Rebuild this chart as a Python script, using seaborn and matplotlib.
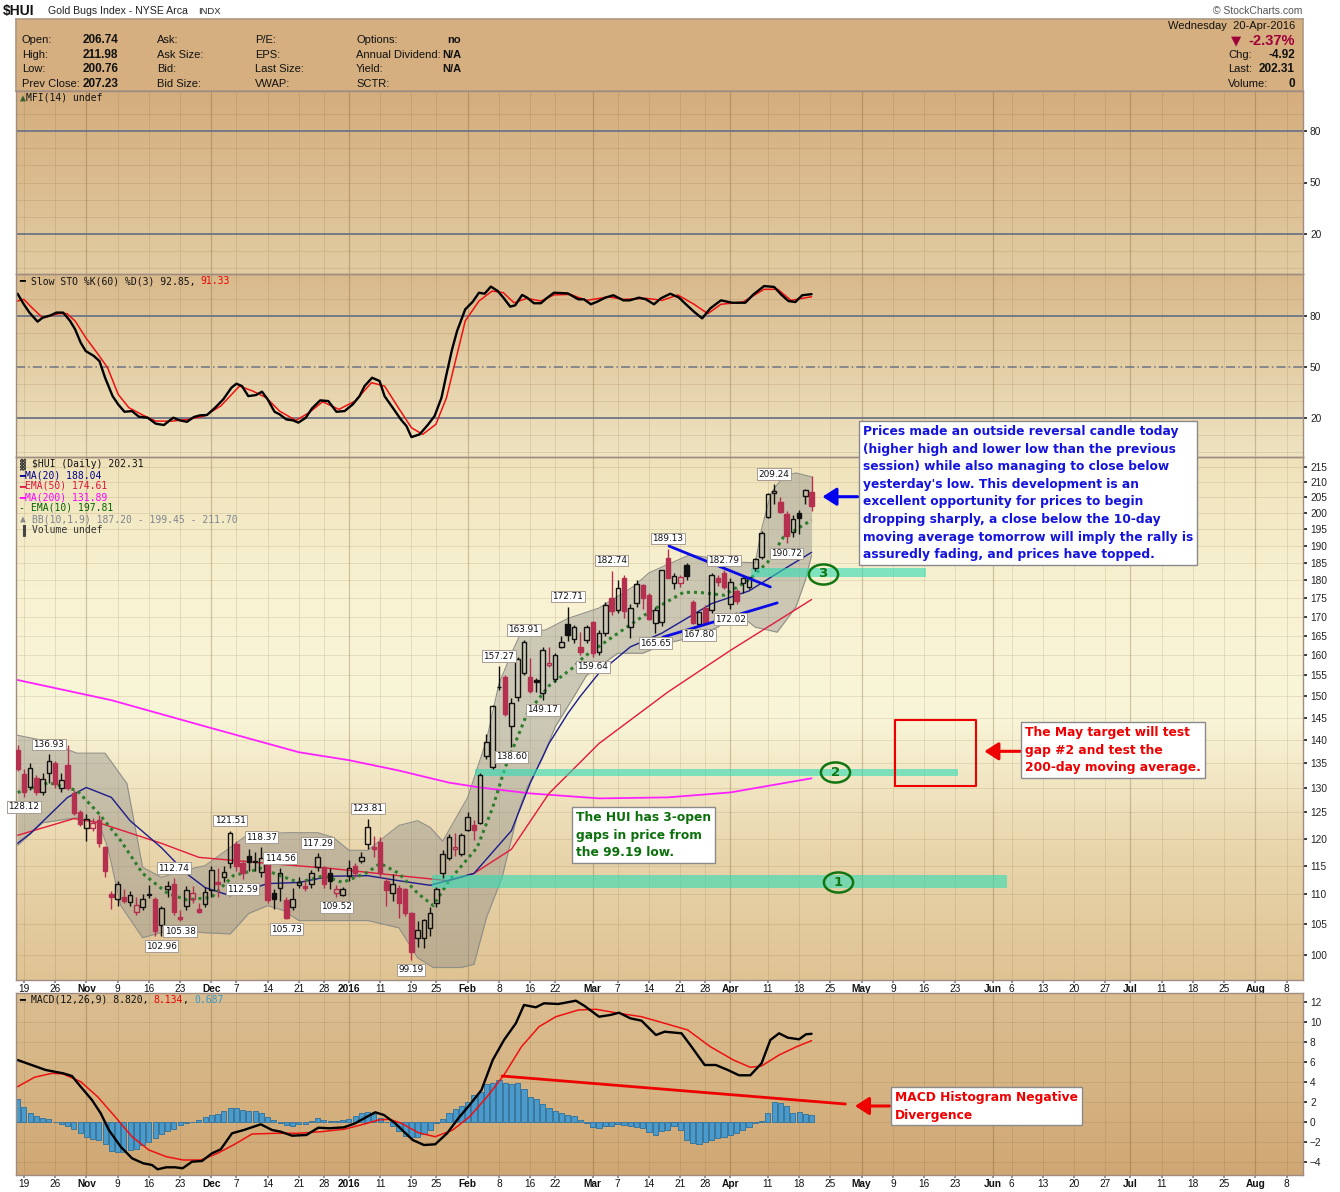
import numpy as np
import pandas as pd
import matplotlib
matplotlib.use("Agg")
import matplotlib.pyplot as plt
import seaborn as sns
from matplotlib.colors import LinearSegmentedColormap
from matplotlib.path import Path
from matplotlib.transforms import Affine2D
from matplotlib.ticker import FuncFormatter, NullLocator

# ---------------- data (trading-day index d: -1 = 16-Oct-2015 ... 126 = 20-Apr-2016) ----------------
OPEN = [137.8, 132.8, 130.2, 132.0, 129.1, 133.0, 135.2, 130.0, 134.6, 128.8, 125.0, 122.0, 122.0, 123.6, 118.5,
        110.0, 109.2, 109.4, 108.6, 106.9, 107.7, 109.8, 109.2, 104.7, 110.8, 111.8, 106.1, 108.0, 109.1, 107.4,
        108.2, 110.6, 112.0, 112.9, 115.4, 118.9, 115.4, 116.8, 115.9, 113.8, 115.4, 110.1, 111.1, 109.0, 107.7,
        111.6, 111.4, 111.8, 114.7, 114.7, 113.6, 110.1, 109.9, 113.2, 115.0, 115.9, 118.9, 118.5, 119.4, 112.2,
        110.1, 111.0, 110.8, 106.8, 102.7, 102.7, 104.3, 108.5, 113.7, 116.3, 118.1, 117.2, 121.7, 122.6, 123.0,
        136.5, 134.2, 152.3, 154.7, 143.1, 149.8, 155.6, 154.7, 153.8, 150.8, 157.5, 154.1, 162.1, 168.0, 164.1,
        162.0, 163.8, 168.6, 160.8, 165.7, 175.0, 171.7, 180.7, 167.3, 173.6, 178.7, 176.0, 168.3, 168.6, 186.4,
        179.3, 179.3, 184.3, 173.9, 168.1, 172.4, 171.7, 180.7, 182.1, 173.4, 176.9, 179.3, 178.2, 183.5, 186.7,
        198.7, 206.4, 203.6, 199.8, 194.2, 200.1, 205.5, 206.74]
HIGH = [139.0, 133.8, 135.0, 132.6, 133.0, 136.93, 135.6, 133.0, 138.9, 129.5, 125.5, 124.8, 124.0, 124.5, 118.6,
        110.5, 112.3, 110.8, 110.5, 109.5, 110.0, 111.5, 109.4, 108.0, 112.3, 112.74, 107.2, 111.3, 111.3, 108.5,
        111.2, 115.0, 114.5, 115.0, 121.51, 119.5, 116.0, 118.0, 117.5, 118.37, 116.0, 110.8, 114.56, 109.5, 111.0,
        113.0, 112.5, 114.2, 117.29, 115.0, 114.5, 111.5, 111.2, 116.0, 115.5, 117.5, 123.81, 120.5, 120.2, 113.0,
        113.5, 111.5, 111.0, 107.0, 105.5, 105.8, 107.7, 111.2, 117.8, 120.8, 121.0, 121.0, 125.0, 123.5, 133.0,
        141.5, 147.9, 157.27, 155.0, 149.5, 159.5, 163.91, 159.3, 154.5, 162.0, 162.0, 160.5, 165.0, 172.71, 167.8,
        166.0, 167.8, 168.9, 166.5, 174.0, 182.74, 180.0, 181.5, 173.5, 180.0, 179.0, 176.5, 172.5, 183.0, 189.13,
        182.0, 181.5, 185.0, 174.5, 171.3, 173.0, 182.0, 181.5, 182.79, 180.5, 177.5, 181.0, 181.0, 186.5, 194.5,
        206.5, 209.24, 205.0, 200.5, 199.5, 201.0, 207.8, 211.98]
LOW = [133.5, 128.12, 129.5, 128.5, 128.5, 131.0, 130.0, 129.0, 129.5, 124.5, 122.3, 119.6, 121.5, 118.5, 113.0,
       107.5, 108.0, 108.5, 108.0, 106.4, 107.2, 109.3, 103.0, 102.96, 109.5, 106.5, 105.38, 107.3, 108.5, 106.8,
       107.8, 109.5, 109.5, 112.0, 114.5, 114.0, 112.59, 114.0, 114.0, 113.0, 108.5, 107.5, 108.8, 105.73, 107.3,
       111.0, 110.5, 111.0, 114.0, 111.0, 110.8, 109.52, 109.6, 112.3, 113.0, 115.5, 118.0, 116.5, 113.0, 108.0,
       108.8, 106.0, 106.2, 99.19, 101.2, 101.0, 103.0, 107.8, 112.8, 116.0, 116.8, 116.8, 121.5, 119.8, 122.8,
       136.0, 133.8, 151.5, 145.5, 138.6, 149.0, 155.0, 150.7, 151.0, 149.17, 157.0, 153.5, 161.8, 163.5, 163.0,
       160.0, 163.0, 159.64, 160.0, 165.0, 170.5, 171.0, 169.5, 164.5, 172.5, 172.0, 169.0, 165.65, 167.5, 180.5,
       177.5, 178.0, 180.0, 168.0, 167.80, 168.0, 171.0, 178.5, 177.5, 172.02, 173.5, 176.5, 177.5, 182.5, 186.0,
       198.5, 203.0, 200.0, 190.72, 192.5, 193.5, 203.0, 200.76]
CLOSE = [133.9, 129.0, 134.0, 129.0, 131.7, 135.6, 130.8, 131.6, 129.8, 124.9, 122.7, 123.8, 122.9, 119.1, 114.0,
         109.4, 111.8, 108.8, 109.9, 108.1, 109.1, 110.0, 103.8, 107.6, 111.4, 107.0, 105.8, 110.6, 110.1, 107.0,
         110.4, 114.3, 111.7, 113.9, 121.1, 115.0, 113.6, 115.6, 115.7, 116.3, 108.9, 109.2, 113.7, 106.0, 109.1,
         112.0, 111.0, 113.6, 116.5, 111.8, 112.3, 110.8, 110.9, 114.5, 113.6, 116.6, 122.1, 118.1, 113.6, 110.7,
         111.8, 108.5, 106.7, 100.4, 104.0, 105.6, 106.7, 110.8, 117.2, 120.2, 118.5, 120.6, 124.2, 121.7, 132.5,
         139.6, 147.7, 152.1, 145.9, 148.4, 159.1, 163.4, 151.2, 153.5, 161.3, 158.0, 160.1, 163.4, 165.2, 167.3,
         160.8, 167.2, 160.5, 165.7, 173.1, 171.5, 177.9, 171.5, 172.3, 179.0, 175.0, 169.4, 171.7, 182.9, 180.7,
         181.3, 181.0, 181.2, 168.2, 171.1, 168.3, 181.6, 179.6, 178.2, 179.6, 174.2, 180.7, 180.9, 186.1, 193.9,
         206.1, 207.0, 200.4, 192.9, 198.2, 198.5, 207.23, 202.31]

MA200_D = [-1, 14, 30, 44, 52, 60, 68, 73, 81, 92, 103, 113, 126]
MA200 = [153.9, 149.1, 142.7, 137.4, 135.7, 133.5, 131.0, 130.0, 128.8, 127.8, 128.0, 129.0, 131.89]
EMA50_D = [-1, 8, 12, 22, 28, 39, 49, 60, 68, 72, 78, 84, 92, 103, 113, 126]
EMA50 = [120.6, 123.8, 123.0, 119.1, 116.5, 115.4, 114.5, 113.2, 112.3, 113.6, 118.0, 128.8, 139.3, 151.0, 161.2, 174.61]
MA20_D = [-1, 1, 7, 10, 14, 17, 22, 26, 29, 33, 39, 44, 49, 55, 60, 65, 72, 78, 81, 84, 87, 89, 92, 97, 102, 110,
          116, 121, 126]
MA20 = [119.1, 120.9, 128.0, 130.0, 128.0, 123.4, 118.3, 113.6, 111.1, 109.7, 111.8, 112.0, 113.1, 113.2, 112.3,
        111.5, 113.6, 121.5, 130.9, 139.3, 146.0, 150.0, 155.6, 162.1, 165.6, 173.5, 177.0, 182.5, 188.04]
EMA10_D = [-1, 4, 8.5, 12, 15.5, 19, 23, 26, 30, 33.5, 38, 41, 44, 48, 51, 55, 57, 60, 63, 65.5, 68, 72.5, 75, 77,
           80.5, 84, 88, 89.5, 95, 100, 105.5, 108, 112, 116, 119, 121.5, 126]
EMA10 = [129.0, 131.0, 129.4, 124.8, 119.6, 113.6, 110.1, 109.0, 109.4, 113.2, 114.5, 113.2, 112.0, 113.2, 112.0,
         113.8, 115.4, 113.6, 110.1, 108.0, 112.3, 118.3, 126.0, 134.2, 146.0, 152.5, 157.1, 159.5, 165.6, 171.2,
         176.6, 176.6, 175.8, 180.1, 185.2, 192.6, 197.81]
BBU_D = [-1, 3, 8.5, 13, 16.5, 19, 22, 25.5, 29, 33, 36, 42.5, 47, 49.5, 52, 55, 60, 63, 65, 67, 71, 74, 76, 78,
         79.5, 83.5, 87, 92, 97.5, 100, 103, 106.5, 110, 114, 117, 118, 119.5, 121.5, 123.5, 126]
BBU = [141.1, 140.0, 137.2, 137.2, 130.8, 114.7, 112.9, 114.1, 115.0, 118.3, 120.9, 121.1, 121.1, 120.2, 117.8,
       117.8, 122.5, 123.4, 122.1, 119.5, 128.0, 140.0, 153.0, 160.5, 165.7, 166.5, 169.5, 172.3, 178.2, 182.1,
       184.5, 187.3, 186.4, 185.2, 185.0, 195.0, 206.4, 211.8, 213.0, 211.70]
BBL_D = [-1, 3, 8.5, 12, 13.5, 15.5, 19, 23, 26, 29, 33, 36, 39, 41.5, 44, 49, 55, 60, 63, 65.5, 70, 72, 74, 76.5,
         79, 80.5, 83, 85, 88, 90, 95, 99, 103, 107, 111, 114, 117, 120.5, 123.5, 125, 126]
BBL = [118.7, 123.0, 124.0, 123.0, 118.0, 108.0, 102.7, 103.8, 103.8, 103.5, 103.3, 106.7, 108.0, 107.2, 105.5,
       105.5, 105.5, 104.3, 99.5, 98.0, 98.0, 98.5, 106.0, 112.9, 124.8, 130.0, 136.3, 143.0, 150.0, 155.0, 160.5,
       160.5, 163.1, 164.6, 167.2, 171.1, 167.2, 165.9, 172.6, 180.0, 187.20]

STO_K_D = [-1, 0, 0.9, 2.2, 3, 4.3, 5.2, 6.3, 7.4, 8.2, 9.1, 9.9, 11.2, 12.1, 13, 14.2, 15.1, 16.1, 17.3, 18.4,
           19.8, 21.1, 22.4, 23.9, 25, 26.1, 27.2, 28.2, 29.3, 30.6, 31.9, 33.2, 34, 34.9, 35.9, 37.1, 38.1, 39,
           40.1, 40.9, 42, 43.1, 43.9, 45.1, 46.1, 47.4, 48.7, 50, 51.3, 52.6, 53.7, 54.5, 55.7, 56.9, 57.7, 59,
           60.3, 61.2, 62, 63.3, 64.6, 65.7, 66.8, 67.6, 68.5, 69.3, 70.6, 71.8, 72.8, 73.7, 74.7, 75.8, 76.7,
           77.8, 78.6, 79.7, 80.5, 81.6, 82.7, 83.6, 84.8, 87, 88.7, 89.6, 90.7, 91.7, 93, 94.3, 95.9, 96.9, 98.4,
           99.5, 100.8, 101.9, 103.4, 104.8, 105.9, 107.2, 108.5, 109.8, 111.5, 113.3, 115.4, 116.7, 118.4, 120,
           121.2, 122.3, 123.4, 124.5, 126]
STO_K = [93.1, 86.9, 82.0, 76.7, 79.0, 80.4, 82.0, 82.0, 77.1, 72.2, 64.3, 59.4, 56.5, 53.5, 43.7, 32.9, 28.0,
         23.7, 24.1, 20.8, 20.2, 16.7, 15.9, 20.2, 18.6, 17.8, 20.6, 21.6, 21.8, 26.1, 31.0, 37.8, 40.2, 38.8,
         32.9, 33.5, 35.5, 31.0, 23.7, 22.2, 19.2, 18.6, 17.3, 20.2, 25.7, 30.4, 30.0, 23.7, 24.1, 28.0, 32.9,
         38.8, 43.7, 41.8, 32.9, 26.1, 19.2, 15.3, 8.8, 10.4, 15.9, 21.2, 31.9, 45.7, 60.4, 71.2, 83.9, 88.4,
         93.7, 93.1, 97.3, 94.7, 90.8, 85.5, 86.3, 92.4, 90.8, 87.5, 87.5, 90.4, 93.7, 93.3, 89.8, 89.8, 86.9,
         88.4, 90.8, 92.2, 89.2, 89.2, 90.8, 89.8, 86.9, 90.4, 93.1, 90.8, 86.9, 82.5, 78.6, 84.5, 89.2, 87.8,
         87.8, 92.7, 97.6, 97.1, 92.4, 88.8, 88.2, 92.2, 92.85]
STO_D_D = [-1, 0, 1.3, 3, 5.6, 6.9, 8.2, 9.9, 11.7, 13.4, 15.1, 16.8, 19, 21.1, 23.7, 26.3, 28.9, 31.5, 34.5, 36.6,
           38.8, 40.9, 43.5, 45.6, 47.8, 50.4, 53, 55.6, 57.7, 59.9, 62, 63.8, 65.9, 67.6, 68.9, 70.6, 72.8, 74.9,
           76.7, 78.4, 80.5, 82.7, 84.8, 87.4, 90, 93.5, 96, 99.5, 102.1, 104.6, 107.2, 109.4, 111.5, 115, 118.4,
           120.6, 122.7, 126]
STO_D = [88.8, 89.8, 84.9, 79.0, 81.4, 81.4, 77.1, 67.3, 58.4, 49.6, 33.9, 26.1, 21.8, 18.2, 18.2, 19.2, 21.2,
         27.1, 38.8, 35.9, 31.9, 24.1, 18.6, 23.1, 29.6, 25.1, 30.0, 40.8, 38.8, 26.1, 14.3, 10.4, 16.3, 31.9,
         51.5, 77.1, 88.8, 94.7, 93.7, 87.8, 90.4, 88.8, 92.4, 92.7, 89.2, 91.2, 89.8, 90.4, 89.2, 92.4, 86.9,
         81.4, 86.9, 88.2, 95.7, 95.7, 89.2, 91.33]

MACD_D = [-1, 1.7, 3.5, 6.3, 7.7, 9.1, 10.9, 12.3, 13.6, 15.5, 17.3, 19.1, 20.5, 21.4, 22.8, 24.2, 25.4, 26.9,
          28.5, 30.1, 31.5, 33.3, 35.2, 37.9, 39.7, 41.1, 42.9, 45.2, 47.1, 48.9, 51.2, 53, 54.9, 56.2, 57.6,
          59.4, 60.8, 62.2, 64, 65.8, 67.7, 69.5, 71.3, 73.2, 75, 76.8, 78.7, 80, 81.9, 83.2, 85.5, 88.3, 89.7,
          92, 93.8, 95.2, 97, 98.8, 101.1, 102.5, 105.2, 106.6, 108.9, 110.7, 112.6, 114.4, 116.2, 118, 119.4,
          120.8, 122.2, 124, 125.1, 126]
MACD_V = [6.2, 5.6, 5.2, 4.87, 4.6, 3.53, 2.2, 0.87, -0.8, -2.47, -3.63, -4.13, -4.3, -4.73, -4.53, -4.53, -4.63,
          -3.97, -3.9, -3.13, -2.73, -1.13, -0.8, -0.23, -0.8, -0.97, -1.37, -1.3, -0.57, -0.63, -0.53, -0.13,
          0.53, 0.97, 0.7, -0.13, -0.97, -1.8, -2.3, -2.23, -1.13, 0.37, 1.7, 3.2, 6.2, 8.2, 9.87, 11.7, 11.47,
          11.87, 11.8, 12.13, 11.6, 10.53, 10.7, 10.93, 10.37, 10.13, 8.7, 9.03, 8.87, 7.7, 5.7, 5.7, 5.2, 4.67,
          4.67, 5.87, 8.2, 8.87, 8.43, 8.27, 8.77, 8.82]
SIG_D = [-1, 1.7, 4.5, 6.3, 9.1, 11.8, 14.6, 17.3, 20, 22.8, 25.5, 28.3, 31, 33.8, 36.5, 40.2, 43.8, 47.5, 51.2,
         54.9, 56.7, 58.5, 60.4, 63.1, 65.8, 68.6, 71.3, 74.1, 76.8, 79.6, 82.4, 85.1, 88.7, 91.5, 95.2, 98.8,
         102.5, 106.2, 109.8, 113.5, 116.2, 118, 120.8, 123.6, 126]
SIG_V = [3.53, 4.47, 4.87, 4.8, 4.03, 2.53, 0.53, -1.47, -2.8, -3.47, -3.8, -3.8, -3.13, -2.2, -1.2, -1.13, -1.13,
         -0.97, -0.73, -0.13, 0.2, 0.27, -0.13, -1.07, -1.47, -0.8, 0.53, 2.53, 4.7, 7.53, 9.53, 10.53, 11.2,
         11.27, 10.87, 10.53, 9.87, 9.2, 7.53, 6.2, 5.47, 5.6, 6.7, 7.53, 8.134]
HIST = [2.27, 1.5, 0.95, 0.6, 0.4, 0.3, 0.05, -0.15, -0.4, -0.7, -1.1, -1.5, -1.7, -1.8, -2.2, -2.9, -3.0, -3.0,
        -2.8, -2.7, -2.3, -2.0, -1.6, -1.2, -0.9, -0.7, -0.3, -0.1, 0.0, 0.2, 0.5, 0.7, 0.8, 1.1, 1.45, 1.45, 1.2,
        1.1, 1.1, 0.95, 0.5, 0.25, -0.1, -0.3, -0.35, -0.2, -0.15, 0.15, 0.4, 0.2, 0.15, 0.1, 0.2, 0.3, 0.6, 0.95,
        1.0, 0.8, 0.45, 0.0, -0.4, -0.9, -1.4, -1.5, -1.45, -1.2, -0.8, -0.1, 0.3, 0.9, 1.3, 1.6, 2.0, 2.7, 3.0,
        3.8, 3.9, 4.2, 3.9, 3.8, 3.9, 3.3, 2.5, 2.3, 1.8, 1.45, 1.1, 0.95, 0.7, 0.6, 0.2, -0.1, -0.5, -0.55, -0.4,
        -0.35, -0.15, -0.25, -0.4, -0.45, -0.55, -1.0, -1.3, -0.9, -0.75, -0.4, -0.75, -1.75, -2.1, -2.2, -2.0,
        -1.75, -1.6, -1.5, -1.3, -1.1, -0.8, -0.5, -0.1, 0.1, 0.93, 2.0, 1.93, 1.6, 0.87, 1.0, 0.77, 0.69]

# swing labels
LBL_D = [4, 0, 33, 38, 41, 24, 35, 47, 55, 50, 42, 25, 22, 62, 76, 80, 78, 83, 87, 91, 94, 101, 103, 108, 112,
         113, 120, 122]
LBL_V = [136.93, 128.12, 121.51, 118.37, 114.56, 112.74, 112.59, 117.29, 123.81, 109.52, 105.73, 105.38, 102.96,
         99.19, 157.27, 163.91, 138.60, 149.17, 172.71, 159.64, 182.74, 165.65, 189.13, 167.80, 182.79, 172.02,
         209.24, 190.72]
LBL_HI = [1, 0, 1, 1, 1, 1, 0, 1, 1, 0, 0, 0, 0, 0, 1, 1, 0, 0, 1, 0, 1, 0, 1, 0, 1, 0, 1, 0]

# open gaps: (start d, end d, low, high)
GAP_X0 = [65.3, 72.2, 116.3]
GAP_X1 = [157.3, 149.4, 144.3]
GAP_LO = [111.0, 132.4, 181.0]
GAP_HI = [113.4, 133.9, 183.4]
CIRC_D = [130.2, 129.8, 127.8]
CIRC_V = [112.0, 133.1, 181.8]
CIRC_T = ["1", "2", "3"]

HOLIDAYS = ["2015-11-26", "2015-12-25", "2016-01-01", "2016-01-18", "2016-02-15", "2016-03-25",
            "2016-05-30", "2016-07-04"]

# ---------------- setup ----------------
sns.set_theme(style="white")
plt.rcParams["font.family"] = ["Liberation Sans", "DejaVu Sans"]
W, H = 1340, 1192
fig = plt.figure(figsize=(13.4, 11.92), dpi=100)
fig.patch.set_facecolor("white")

def rect(top, bot, left=16, right=1303):
    return [left / W, 1 - bot / H, (right - left) / W, (bot - top) / H]

def ftext(x, y, s, **kw):
    kw.setdefault("va", "center")
    return fig.text(x / W, 1 - y / H, s, **kw)

def panel(top, bot, stops):
    bg = fig.add_axes(rect(top, bot), zorder=0)
    bg.imshow(np.linspace(0, 1, 256).reshape(-1, 1),
              cmap=LinearSegmentedColormap.from_list("g", stops),
              aspect="auto", extent=(0, 1, 0, 1), origin="upper")
    bg.set_axis_off()
    ax = fig.add_axes(rect(top, bot), zorder=1)
    ax.set_facecolor("none")
    for s in ax.spines.values():
        s.set_color("#a08c80")
        s.set_linewidth(1.0)
    ax.set_xlim(-1.25, 204.6)
    return ax

# calendar / ticks
days = pd.bdate_range("2015-10-16", "2016-08-12")
days = days[~days.isin(pd.to_datetime(HOLIDAYS))]
didx = np.arange(len(days)) - 1
month_pos, week_pos = [], []
for i in range(len(days)):
    if i > 0 and days[i].month != days[i - 1].month:
        month_pos.append(i)
    if i > 0 and days[i].weekday() <= days[i - 1].weekday():
        week_pos.append(i)
tick_pos, tick_lab, tick_bold = [], [], []
for i in sorted(set(month_pos) | set(week_pos)):
    if i in month_pos:
        tick_pos.append(didx[i])
        tick_lab.append("2016" if days[i].month == 1 else days[i].strftime("%b"))
        tick_bold.append(True)
    elif all(abs(i - m) > 2 for m in month_pos):
        tick_pos.append(didx[i])
        tick_lab.append(str(days[i].day))
        tick_bold.append(False)

def vgrid(ax):
    for p, b in zip(tick_pos, tick_bold):
        ax.axvline(p, color="#6b4a1e", alpha=0.28 if b else 0.13, lw=0.9 if b else 0.7, zorder=0.2)

def xticks(ax, show):
    ax.set_xticks(tick_pos)
    if show:
        ax.set_xticklabels(tick_lab)
        for t, b in zip(ax.get_xticklabels(), tick_bold):
            t.set_fontweight("bold" if b else "normal")
            t.set_fontsize(7.3)
            t.set_color("#111")
        ax.tick_params(axis="x", length=2, pad=1, bottom=True, color="#888")
    else:
        ax.tick_params(axis="x", labelbottom=False, length=0)

def yright(ax, ticks):
    ax.yaxis.tick_right()
    ax.set_yticks(ticks)
    ax.tick_params(axis="y", labelsize=7.3, length=3, pad=2, colors="#222", right=True)

def line(ax, xs, ys, **kw):
    sns.lineplot(x=np.asarray(xs, float), y=np.asarray(ys, float), ax=ax, **kw)

# ---------------- header ----------------
ftext(3, 11, "$HUI", fontsize=10, fontweight="bold", color="#111")
ftext(48, 11, "Gold Bugs Index - NYSE Arca", fontsize=7.6, color="#222")
ftext(198, 11, "INDX", fontsize=6.8, color="#222")
ftext(1302, 11, "\u00a9 StockCharts.com", fontsize=7.5, ha="right", color="#555")
hdr = fig.add_axes(rect(19, 91))
hdr.set_facecolor("#d5af7f")
hdr.set_xticks([]); hdr.set_yticks([])
for s in hdr.spines.values():
    s.set_color("#b09a84")
rows = [40, 55, 69, 84]
for y, a, v in zip(rows, ["Open:", "High:", "Low:", "Prev Close:"], ["206.74", "211.98", "200.76", "207.23"]):
    ftext(22, y, a, fontsize=8, color="#111")
    ftext(83, y, v, fontsize=8.5, fontweight="bold", color="#111")
for y, a in zip(rows, ["Ask:", "Ask Size:", "Bid:", "Bid Size:"]):
    ftext(157, y, a, fontsize=8, color="#111")
for y, a in zip(rows, ["P/E:", "EPS:", "Last Size:", "VWAP:"]):
    ftext(255, y, a, fontsize=8, color="#111")
for y, a, v in zip(rows, ["Options:", "Annual Dividend:", "Yield:", "SCTR:"], ["no", "N/A", "N/A", ""]):
    ftext(356, y, a, fontsize=8, color="#111")
    ftext(461, y, v, fontsize=8, fontweight="bold", ha="right", color="#111")
ftext(1295, 26, "Wednesday  20-Apr-2016", fontsize=8, ha="right", color="#111")
ftext(1236, 41, "\u25bc", fontsize=9.5, ha="center", color="#a0003a", family=["DejaVu Sans"])
ftext(1295, 41, "-2.37%", fontsize=10.5, fontweight="bold", ha="right", color="#a0003a")
for y, a, v in zip([55, 69, 84], ["Chg:", "Last:", "Volume:"], ["-4.92", "202.31", "0"]):
    ftext(1228, y, a, fontsize=8, color="#111")
    ftext(1295, y, v, fontsize=8.5, fontweight="bold", ha="right", color="#111")

MONO = ["DejaVu Sans Mono"]
CW = 5.85  # px per char at 7pt mono

def ctext(x, y, parts):
    for s, c in parts:
        ftext(x, y, s, fontsize=7, color=c, family=MONO)
        x += len(s) * CW

# ---------------- MFI panel ----------------
mfi = panel(91, 274, ["#d4ad7d", "#e2cca2"])
mfi.set_ylim(-3.5, 103.5)
vgrid(mfi)
for v in [0, 10, 30, 40, 50, 60, 70, 90]:
    mfi.axhline(v, color="#6b4a1e", alpha=0.13, lw=0.7, zorder=0.2)
for v in [80, 20]:
    mfi.axhline(v, color="#6e7585", lw=1.3, zorder=0.5)
xticks(mfi, False)
yright(mfi, [80, 50, 20])
ctext(20, 98, [("\u25b2", "#3b5d2b"), ("MFI(14) undef", "#111")])

# ---------------- STO panel ----------------
sto = panel(274, 457, ["#d8b98b", "#efe4c1"])
sto.set_ylim(-2.9, 104.7)
vgrid(sto)
for v in [0, 10, 30, 40, 60, 70, 90]:
    sto.axhline(v, color="#6b4a1e", alpha=0.13, lw=0.7, zorder=0.2)
for v in [80, 20]:
    sto.axhline(v, color="#6e7585", lw=1.3, zorder=0.5)
sto.axhline(50, color="#6e7585", lw=1.1, ls=(0, (6, 2, 1, 2)), zorder=0.5)
line(sto, STO_D_D, STO_D, color="#ee1111", lw=1.1)
line(sto, STO_K_D, STO_K, color="#000000", lw=1.7)
xticks(sto, False)
yright(sto, [80, 50, 20])
ctext(19, 281, [("\u2501 ", "#000"), ("Slow STO %K(60) %D(3) 92.85, ", "#111"), ("91.33", "#ee0000")])

# ---------------- main panel ----------------
ax = panel(457, 980, ["#efe2ba", "#f8f2d2", "#f9f5d8", "#e9d6ad", "#dfc393"])
ax.set_yscale("log")
ax.set_ylim(96.1, 218.4)
vgrid(ax)
pticks = list(range(100, 216, 5))
for v in pticks:
    ax.axhline(v, color="#6b4a1e", alpha=0.13, lw=0.7, zorder=0.2)
yright(ax, pticks)
ax.yaxis.set_major_formatter(FuncFormatter(lambda v, _: f"{v:.0f}"))
ax.yaxis.set_minor_locator(NullLocator())
xticks(ax, True)

# Bollinger band envelope
grid_d = np.union1d(BBU_D, BBL_D)
ax.fill_between(grid_d, np.interp(grid_d, BBL_D, BBL), np.interp(grid_d, BBU_D, BBU),
                color="#8d8d8a", alpha=0.42, lw=0, zorder=1)
line(ax, BBU_D, BBU, color="#8f8f88", lw=0.8, zorder=1.1)
line(ax, BBL_D, BBL, color="#8f8f88", lw=0.8, zorder=1.1)
line(ax, MA200_D, MA200, color="#ff22ff", lw=1.3, zorder=2)
line(ax, EMA50_D, EMA50, color="#e21a3c", lw=1.0, zorder=2)
line(ax, MA20_D, MA20, color="#1c1c8c", lw=1.0, zorder=2)
line(ax, EMA10_D, EMA10, color="#2e7d2e", lw=2.2, linestyle=(0, (1, 1.3)), zorder=2.1)

# gaps
for x0, x1, lo, hi in zip(GAP_X0, GAP_X1, GAP_LO, GAP_HI):
    ax.fill_between([x0, x1], [lo, lo], [hi, hi], color="#2fdcb4", alpha=0.6, lw=0, zorder=2.5)

# candles
d = np.arange(len(CLOSE)) - 1
O, Hh, L, C = map(np.asarray, (OPEN, HIGH, LOW, CLOSE))
prev = np.r_[C[0] + 1, C[:-1]]
RED, BLK = "#b5304f", "#111111"
edge = np.where(C >= prev, BLK, RED)
hollow = C >= O
top = np.maximum(O, C)
bot = np.minimum(O, C)
ax.vlines(d, top, Hh, colors=edge, lw=1.0, zorder=3)
ax.vlines(d, L, bot, colors=edge, lw=1.0, zorder=3)
hgt = np.maximum(top - bot, 0.15)
face = [("none" if h else e) for h, e in zip(hollow, edge)]
ax.bar(d, hgt, bottom=bot, width=0.72, color=face, edgecolor=edge, linewidth=1.0, zorder=3.2)

# swing labels
for dd, v, hi in zip(LBL_D, LBL_V, LBL_HI):
    ax.annotate(f"{v:.2f}", xy=(dd, v), xytext=(0, 4 if hi else -4), textcoords="offset points",
                ha="center", va="bottom" if hi else "top", fontsize=6.4, color="#111",
                family=["DejaVu Sans"],
                bbox=dict(boxstyle="square,pad=0.15", fc="white", ec="#a89c90", lw=0.7), zorder=6)

# triangle lines
line(ax, [103.2, 119.4], [189.9, 178.1], color="#0a0ae6", lw=2.0, zorder=4)
line(ax, [102.2, 120.5], [164.6, 173.7], color="#0a0ae6", lw=2.0, zorder=4)

# gap circles
ell = Affine2D().scale(1.45, 1.0).transform_path(Path.unit_circle())
for cd, cv, ct in zip(CIRC_D, CIRC_V, CIRC_T):
    ax.plot([cd], [cv], marker=ell, ms=21, mfc="none", mec="#127512", mew=1.8, ls="", zorder=5)
    ax.text(cd, cv, ct, ha="center", va="center", fontsize=9.5, fontweight="bold", color="#127512",
            family=["DejaVu Sans"], zorder=5)

# arrows and rectangle
ax.annotate("", xy=(127.3, 205.2), xytext=(133.8, 205.2),
            arrowprops=dict(arrowstyle="-|>,head_length=0.7,head_width=0.45", color="#0000ee", lw=2.2),
            zorder=6)
ax.annotate("", xy=(153.2, 137.6), xytext=(159.8, 137.6),
            arrowprops=dict(arrowstyle="-|>,head_length=0.7,head_width=0.45", color="#ee0000", lw=2.2),
            zorder=6)
RECT_X = [139.4, 152.3, 152.3, 139.4, 139.4]
RECT_Y = [130.4, 130.4, 144.5, 144.5, 130.4]
ax.plot(RECT_X, RECT_Y, color="#ee0000", lw=1.5, zorder=5)

# main legend
ctext(20, 464, [("\u2593 ", "#333"), ("$HUI (Daily) 202.31", "#111")])
ctext(19, 475, [("\u2501", "#00008b"), ("MA(20) 188.04", "#00008b")])
ctext(19, 486, [("\u2501", "#dc143c"), ("EMA(50) 174.61", "#dc143c")])
ctext(19, 497, [("\u2501", "#ff00ff"), ("MA(200) 131.89", "#ff00ff")])
ctext(19, 508, [("- ", "#006400"), ("EMA(10) 197.81", "#006400")])
ctext(20, 519, [("\u25b2 ", "#8a8a8a"), ("BB(10,1.9) 187.20 - 199.45 - 211.70", "#7d8590")])
ctext(20, 530, [("\u2590 ", "#444"), ("Volume undef", "#333")])

# annotation boxes
BOX = dict(boxstyle="square,pad=0.3", fc="white", ec="#8a8a8a", lw=1)
FS = 8.85
LS = 1.46
ftext(863, 425, "Prices made an outside reversal candle today\n(higher high and lower low than the previous\n"
      "session) while also managing to close below\nyesterday's low. This development is an\n"
      "excellent opportunity for prices to begin\ndropping sharply, a close below the 10-day\n"
      "moving average tomorrow will imply the rally is\nassuredly fading, and prices have topped.",
      va="top", ha="left", fontsize=FS, fontweight="bold", color="#1414dc", linespacing=LS,
      family=["DejaVu Sans"], bbox=BOX, zorder=10)
ftext(576, 811, "The HUI has 3-open\ngaps in price from\nthe 99.19 low.", va="top", ha="left",
      fontsize=FS, fontweight="bold", color="#0b700b", linespacing=LS, family=["DejaVu Sans"],
      bbox=BOX, zorder=10)
ftext(1025, 726, "The May target will test\ngap #2 and test the\n200-day moving average.", va="top",
      ha="left", fontsize=FS, fontweight="bold", color="#ee0000", linespacing=LS,
      family=["DejaVu Sans"], bbox=BOX, zorder=10)
ftext(895, 1091, "MACD Histogram Negative\nDivergence", va="top", ha="left", fontsize=FS,
      fontweight="bold", color="#ee0000", linespacing=LS, family=["DejaVu Sans"], bbox=BOX, zorder=10)

# ---------------- MACD panel ----------------
mac = panel(993, 1175, ["#dabd91", "#d6b483", "#cfa774"])
mac.set_ylim(-5.3, 12.9)
vgrid(mac)
for v in range(-4, 13, 2):
    mac.axhline(v, color="#6b4a1e", alpha=0.13, lw=0.7, zorder=0.2)
mac.bar(d, HIST, width=0.82, color="#4a9acb", edgecolor="#2d6f9c", linewidth=0.6, zorder=1)
line(mac, SIG_D, SIG_V, color="#ee1111", lw=1.1, zorder=2)
line(mac, MACD_D, MACD_V, color="#000000", lw=1.7, zorder=2.1)
line(mac, [76.5, 131.4], [4.6, 1.8], color="#ee0000", lw=2.0, zorder=3)
mac.annotate("", xy=(132.5, 1.6), xytext=(138.9, 1.6),
             arrowprops=dict(arrowstyle="-|>,head_length=0.7,head_width=0.45", color="#ee0000", lw=2.2),
             zorder=6)
xticks(mac, True)
yright(mac, list(range(-4, 13, 2)))
ctext(19, 1000, [("\u2501 ", "#000"), ("MACD(12,26,9) 8.820, ", "#111"), ("8.134", "#ee0000"),
                 (", ", "#111"), ("0.687", "#3399cc")])

fig.savefig("out.png", dpi=100)
